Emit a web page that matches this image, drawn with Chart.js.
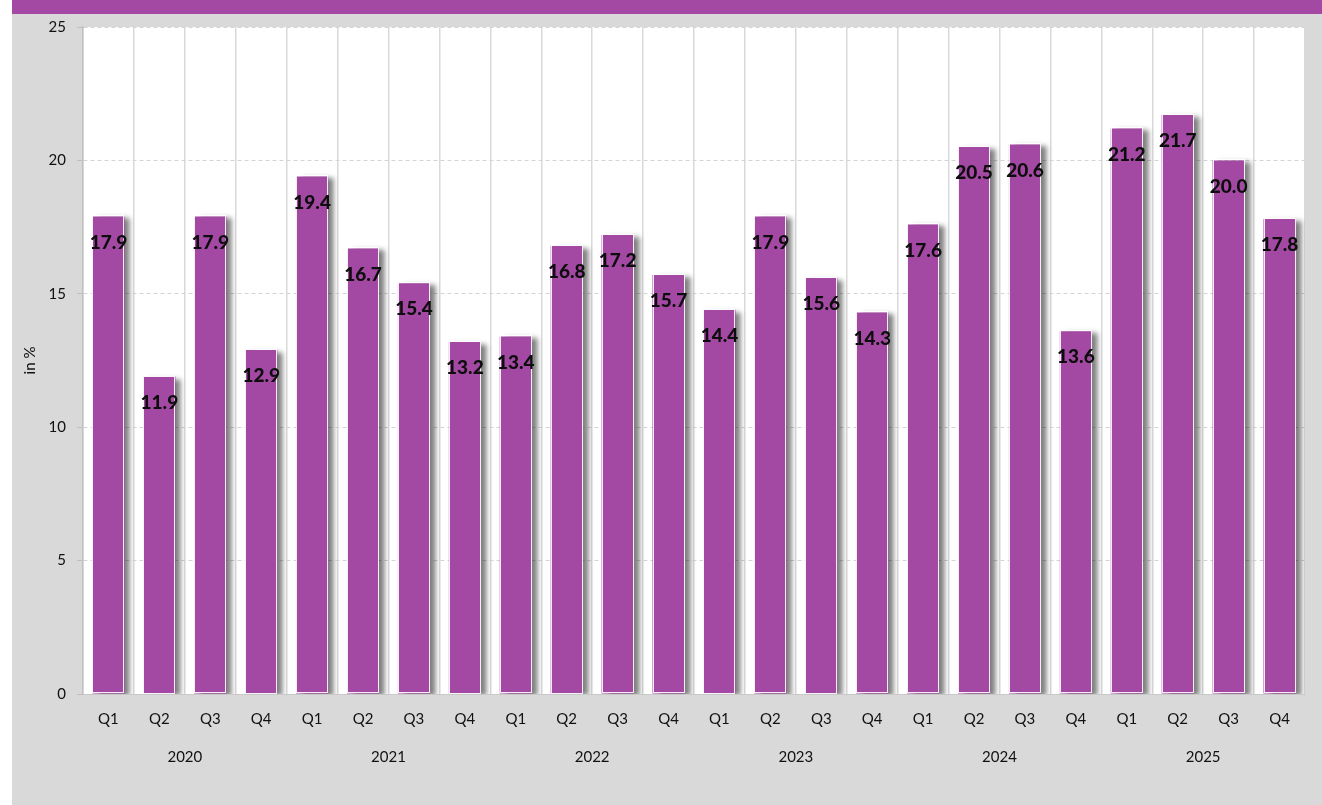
<!DOCTYPE html>
<html>
<head>
<meta charset="utf-8">
<script src="https://cdn.jsdelivr.net/npm/chart.js@4/dist/chart.umd.min.js"></script>
<style>
  html, body { margin: 0; padding: 0; background: #ffffff; }
  #wrap { width: 1322px; height: 805px; }
</style>
</head>
<body>
<div id="wrap"><canvas id="c" width="1322" height="805"></canvas></div>
<script>
// Quarterly values in %, 2020 Q1 .. 2025 Q4
const years = ['2020', '2021', '2022', '2023', '2024', '2025'];
const quarterNames = ['Q1', 'Q2', 'Q3', 'Q4'];
const values = [
  17.9, 11.9, 17.9, 12.9,
  19.4, 16.7, 15.4, 13.2,
  13.4, 16.8, 17.2, 15.7,
  14.4, 17.9, 15.6, 14.3,
  17.6, 20.5, 20.6, 13.6,
  21.2, 21.7, 20.0, 17.8
];
const yTickValues = [0, 5, 10, 15, 20, 25];

const labels = [];
years.forEach(() => quarterNames.forEach(q => labels.push(q)));

const PURPLE = '#a349a4';
const PANEL = '#d9d9d9';
const FONT = 'Lato, "Open Sans", sans-serif';

// Page panel, header band and white plot area
const backgroundPlugin = {
  id: 'panelBackground',
  beforeDraw(chart) {
    const { ctx, width, height, chartArea } = chart;
    ctx.save();
    ctx.fillStyle = '#ffffff';
    ctx.fillRect(0, 0, width, height);
    ctx.fillStyle = PANEL;
    ctx.fillRect(12, 0, width - 12, height);
    ctx.fillStyle = PURPLE;
    ctx.fillRect(12, 0, width - 12, 14);
    ctx.fillStyle = '#ffffff';
    ctx.fillRect(chartArea.left, chartArea.top, chartArea.right - chartArea.left, chartArea.bottom - chartArea.top);
    ctx.restore();
  }
};

// Drop shadow under the bars, a thin white outline, then bold value labels
const barDecorPlugin = {
  id: 'barDecor',
  beforeDatasetsDraw(chart) {
    const ctx = chart.ctx;
    ctx.save();
    ctx.shadowColor = 'rgba(0,0,0,0.5)';
    ctx.shadowBlur = 5;
    ctx.shadowOffsetX = 6;
    ctx.shadowOffsetY = 2;
  },
  afterDatasetsDraw(chart) {
    const ctx = chart.ctx;
    ctx.restore();
    const meta = chart.getDatasetMeta(0);

    ctx.save();
    ctx.strokeStyle = 'rgba(255,255,255,0.9)';
    ctx.lineWidth = 1;
    meta.data.forEach(bar => {
      const { x, y, base, width } = bar.getProps(['x', 'y', 'base', 'width'], true);
      ctx.strokeRect(Math.round(x - width / 2) + 0.5, Math.round(y) - 0.5, Math.round(width) - 1, Math.round(base - y));
    });
    ctx.restore();

    ctx.save();
    ctx.font = '900 19px ' + FONT;
    ctx.fillStyle = '#0d0d0d';
    ctx.textAlign = 'center';
    ctx.textBaseline = 'middle';
    meta.data.forEach((bar, i) => {
      const v = chart.data.datasets[0].data[i];
      ctx.fillText(v.toFixed(1), bar.x, bar.y + 26);
    });
    ctx.restore();
  }
};

// Year labels centred under each group of four quarters
const yearAxisPlugin = {
  id: 'yearAxis',
  afterDraw(chart) {
    const ctx = chart.ctx;
    const xs = chart.scales.x;
    ctx.save();
    ctx.font = '15px ' + FONT;
    ctx.fillStyle = '#111111';
    ctx.textAlign = 'center';
    ctx.textBaseline = 'middle';
    years.forEach((y, i) => {
      const x0 = xs.getPixelForValue(i * 4);
      const x1 = xs.getPixelForValue(i * 4 + 3);
      ctx.fillText(y, (x0 + x1) / 2, xs.top + 63);
    });
    ctx.restore();
  }
};

new Chart(document.getElementById('c'), {
  type: 'bar',
  data: {
    labels: labels,
    datasets: [{
      data: values,
      backgroundColor: PURPLE,
      borderWidth: 0,
      barPercentage: 0.63,
      categoryPercentage: 1.0
    }]
  },
  options: {
    responsive: false,
    animation: false,
    events: [],
    layout: { padding: { left: 12, top: 27, right: 17, bottom: 0 } },
    plugins: {
      legend: { display: false },
      tooltip: { enabled: false },
      title: { display: false }
    },
    scales: {
      x: {
        offset: true,
        grid: {
          display: true,
          offset: true,
          color: '#d9d9d9',
          lineWidth: 1.5,
          drawTicks: false
        },
        border: { display: true, color: '#c8c8c8', width: 1 },
        ticks: {
          font: { family: FONT, size: 15 },
          color: '#111111',
          padding: 16,
          maxRotation: 0,
          autoSkip: false
        },
        afterFit(scale) { scale.height = 111; }
      },
      y: {
        min: 0,
        max: 25,
        afterBuildTicks(scale) { scale.ticks = yTickValues.map(v => ({ value: v })); },
        grid: {
          color: '#d4d4d4',
          lineWidth: 1,
          tickLength: 6,
          tickColor: '#bfbfbf'
        },
        border: { display: true, color: '#bfbfbf', width: 1.5, dash: [4, 3] },
        ticks: {
          font: { family: FONT, size: 15 },
          color: '#111111',
          padding: 11
        },
        title: {
          display: true,
          text: 'in %',
          font: { family: FONT, size: 15 },
          color: '#111111',
          padding: { top: 9, bottom: 0 }
        },
        afterFit(scale) { scale.width = 71; }
      }
    }
  },
  plugins: [backgroundPlugin, barDecorPlugin, yearAxisPlugin]
});
</script>
</body>
</html>
